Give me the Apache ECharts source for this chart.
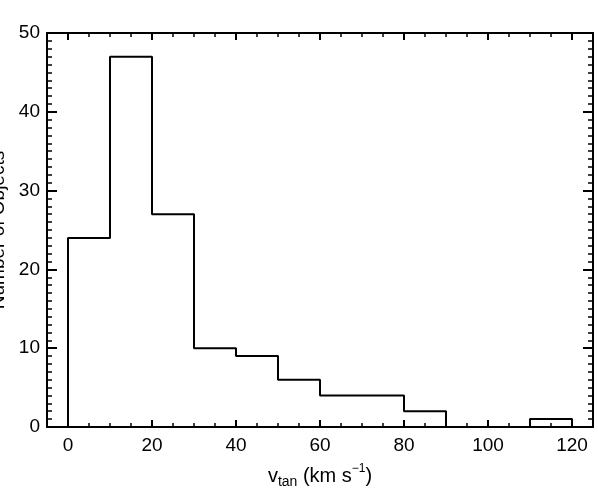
<!DOCTYPE html>
<html>
<head>
<meta charset="utf-8">
<script src="https://cdn.jsdelivr.net/npm/echarts@6/dist/echarts.min.js"></script>
<style>html,body{margin:0;padding:0;background:#fff}#c{width:598px;height:495px}</style>
</head>
<body>
<div id="c"></div>
<script>
// Histogram data: bin edges (km/s) and counts
const binStarts = [0, 10, 20, 30, 40, 50, 60, 70, 80, 90, 100, 110];
const binWidth = 10;
const counts = [24, 47, 27, 10, 9, 6, 4, 4, 2, 0, 0, 1];
const xMajorTicks = [0, 20, 40, 60, 80, 100, 120];
const xMinorTicks = [-5, 5, 10, 15, 25, 30, 35, 45, 50, 55, 65, 70, 75, 85, 90, 95, 105, 110, 115, 125];
const yMajorTicks = [0, 10, 20, 30, 40, 50];
const yMinorTicks = [1,2,3,4,5,6,7,8,9,11,12,13,14,15,16,17,18,19,21,22,23,24,25,26,27,28,29,31,32,33,34,35,36,37,38,39,41,42,43,44,45,46,47,48,49];

// step outline built from the bins
const outline = [[binStarts[0], 0]];
binStarts.forEach((s, i) => {
  outline.push([s, counts[i]]);
  outline.push([s + binWidth, counts[i]]);
});
outline.push([binStarts[binStarts.length - 1] + binWidth, 0]);

const FONT = '"Liberation Sans", Arial, Helvetica, sans-serif';
const black = '#000';
const FS = 19;

function ax(kind, pos, ticks, len, width, labels, lineShow) {
  const isX = kind === 'x';
  return {
    type: 'value', position: pos,
    min: isX ? -5 : 0, max: isX ? 125 : 50,
    axisLine: { show: lineShow, onZero: false, lineStyle: { color: black, width: 2 } },
    axisTick: { show: true, inside: true, length: len, customValues: ticks, lineStyle: { color: black, width: width } },
    axisLabel: labels ? { show: true, customValues: ticks, fontSize: FS, color: black, fontFamily: FONT, margin: isX ? 9 : 7 } : { show: false },
    splitLine: { show: false }
  };
}

const chart = echarts.init(document.getElementById('c'), null, { renderer: 'canvas' });
const xMain = ax('x', 'bottom', xMajorTicks, 7, 2, true, true);
xMain.name = '{v|v}{sub|tan}{n| (km s}{sup|\u22121}{n|)}';
xMain.nameLocation = 'middle';
xMain.nameGap = 36;
xMain.nameTextStyle = {
  fontFamily: FONT, color: black,
  rich: {
    v: { fontSize: 20, fontFamily: FONT, color: black, lineHeight: 26, verticalAlign: 'middle' },
    n: { fontSize: 20, fontFamily: FONT, color: black, lineHeight: 26, verticalAlign: 'middle' },
    sub: { fontSize: 14, fontFamily: FONT, color: black, lineHeight: 26, verticalAlign: 'bottom' },
    sup: { fontSize: 12, fontFamily: FONT, color: black, lineHeight: 26, verticalAlign: 'top' }
  }
};
const yMain = ax('y', 'left', yMajorTicks, 10, 2, true, true);
yMain.name = 'Number of Objects';
yMain.nameLocation = 'middle';
yMain.nameGap = 38;
yMain.nameRotate = 90;
yMain.nameTextStyle = { fontSize: 19, color: black, fontFamily: FONT };

const option = {
  animation: false,
  backgroundColor: '#fff',
  grid: { left: 47, right: 5, top: 33, bottom: 68, containLabel: false, outerBoundsMode: 'none' },
  xAxis: [
    xMain,
    ax('x', 'bottom', xMinorTicks, 4, 1.5, false, false),
    ax('x', 'top', xMajorTicks, 7, 2, false, true),
    ax('x', 'top', xMinorTicks, 4, 1.5, false, false)
  ],
  yAxis: [
    yMain,
    ax('y', 'left', yMinorTicks, 5, 1.5, false, false),
    ax('y', 'right', yMajorTicks, 10, 2, false, true),
    ax('y', 'right', yMinorTicks, 5, 1.5, false, false)
  ],
  series: [{
    type: 'line', xAxisIndex: 0, yAxisIndex: 0,
    data: outline, showSymbol: false, symbol: 'none',
    lineStyle: { color: black, width: 2 }, clip: true
  }]
};
chart.setOption(option);
</script>
</body>
</html>
